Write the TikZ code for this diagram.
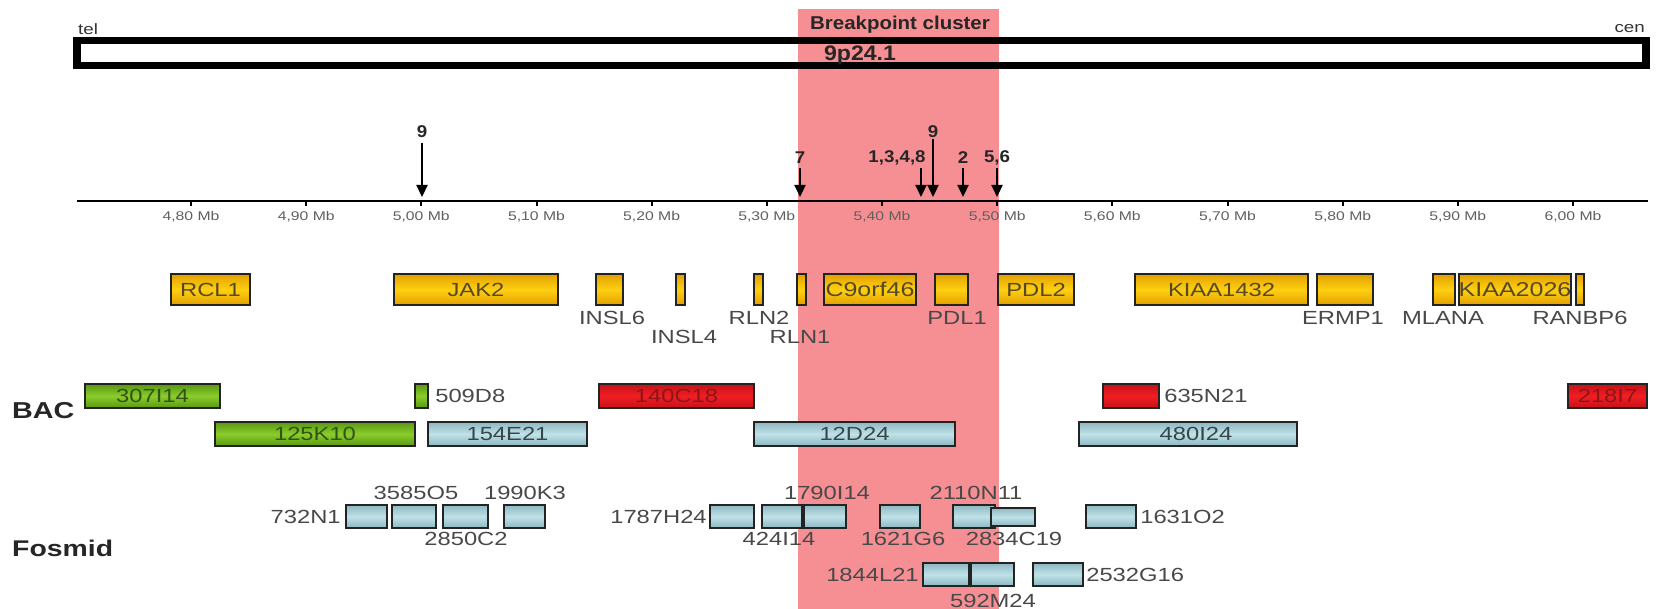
\documentclass[tikz,border=0pt]{standalone}
\usepackage{fontspec}
\setmainfont{Liberation Sans}[FakeStretch=1.25]
\newfontfamily\bd{Liberation Sans}[FakeStretch=1.1]
\newfontfamily\bdw{Liberation Sans}[FakeStretch=1.25]
\usetikzlibrary{arrows.meta}
\definecolor{pinkc}{RGB}{246,143,147}
\definecolor{goldM}{RGB}{255,208,18}
\definecolor{goldE}{RGB}{226,160,0}
\definecolor{greenM}{RGB}{138,204,44}
\definecolor{greenE}{RGB}{88,152,18}
\definecolor{redM}{RGB}{240,30,36}
\definecolor{redE}{RGB}{198,18,24}
\definecolor{blueM}{RGB}{192,225,231}
\definecolor{blueE}{RGB}{140,184,194}
\definecolor{boxline}{RGB}{35,35,35}
\definecolor{labgray}{RGB}{72,72,72}
\definecolor{tickgray}{RGB}{95,95,95}
\definecolor{goldT}{RGB}{85,72,40}
\definecolor{greenT}{RGB}{50,82,22}
\definecolor{redT}{RGB}{140,22,22}
\definecolor{blueT}{RGB}{55,70,76}
\newcommand\mybox[6]{\node[#1, minimum width={#4-#3-2}, minimum height={#6-#5-2}] (#2) at ({(#3+#4)/2},{(#5+#6)/2}) {};}
\tikzset{
  bx/.style={draw=boxline, line width=2.2pt, inner sep=0pt, rectangle},
  goldbox/.style={bx, top color=goldE, bottom color=goldE, middle color=goldM},
  greenbox/.style={bx, top color=greenE, bottom color=greenE, middle color=greenM},
  redbox/.style={bx, top color=redE, bottom color=redE, middle color=redM},
  bluebox/.style={bx, top color=blueE, bottom color=blueE, middle color=blueM},
  lbl/.style={font=\fontsize{19}{19}\selectfont, text=labgray, inner sep=0pt},
  goldtxt/.style={lbl, text=goldT},
  greentxt/.style={lbl, text=greenT},
  redtxt/.style={lbl, text=redT},
  bluetxt/.style={lbl, text=blueT},
  ticklbl/.style={font=\fontsize{12.6}{13}\selectfont, text=tickgray, inner sep=0pt},
  arrlbl/.style={font=\bd\bfseries\fontsize{17}{17}\selectfont, text=black!85, inner sep=0pt},
  arr/.style={line width=2.2pt, -{Triangle[width=11pt,length=12pt]}},
  rowlbl/.style={font=\bdw\bfseries\fontsize{23}{23}\selectfont, text=black!85, inner sep=0pt, anchor=west},
}
\begin{document}
\begin{tikzpicture}[x=1pt,y=-1pt]
\useasboundingbox (0,0) rectangle (1656,609);
% breakpoint cluster
\fill[pinkc] (798,9) rectangle (999,609);
\node[font=\bd\bfseries\fontsize{18.6}{19}\selectfont, text=black!85, inner sep=0pt] (bpc) at (900,25) {Breakpoint cluster};
% chromosome
\node[draw=black, line width=7.5pt, minimum width=1569pt, minimum height=25pt, inner sep=0pt] (chrom) at (861.5,53) {};
\node[font=\bd\bfseries\fontsize{21}{21}\selectfont, text=black!85, inner sep=0pt] (band) at (860,55) {9p24.1};
\node[font=\fontsize{15}{15}\selectfont, text=black!80, inner sep=0pt, anchor=west] (tel) at (78,29) {tel};
\node[font=\fontsize{15}{15}\selectfont, text=black!80, inner sep=0pt, anchor=east] (cen) at (1645,29) {cen};
% axis
\coordinate (axL) at (77,201);
\coordinate (axR) at (1648,201);
\draw[line width=2.4pt] (axL) -- (axR);
\foreach \xx/\a/\b in {191/4/80,306.3/4/90,421.3/5/00,536.5/5/10,651.6/5/20,766.8/5/30,882/5/40,997.2/5/50,1112.3/5/60,1227.5/5/70,1342.7/5/80,1457.8/5/90,1573/6/00}{
  \draw[line width=2pt] (\xx,201) -- (\xx,206);
  \node[ticklbl] at (\xx,217) {\a,\b\ Mb};
}
% breakpoint arrows
\node[arrlbl] (l9a) at (422,132) {9};
\coordinate (s9a) at (422,143); \coordinate (t9a) at (422,197);
\draw[arr] (s9a) -- (t9a);
\node[arrlbl] (l7) at (800,158) {7};
\coordinate (s7) at (800,168); \coordinate (t7) at (800,197);
\draw[arr] (s7) -- (t7);
\node[arrlbl] (l1348) at (897,158) {1,3,4,8};
\coordinate (s1348) at (921,168); \coordinate (t1348) at (921,197);
\draw[arr] (s1348) -- (t1348);
\node[arrlbl] (l9b) at (933,132) {9};
\coordinate (s9b) at (933,139); \coordinate (t9b) at (933,197);
\draw[arr] (s9b) -- (t9b);
\node[arrlbl] (l2) at (963,158) {2};
\coordinate (s2) at (963,168); \coordinate (t2) at (963,197);
\draw[arr] (s2) -- (t2);
\node[arrlbl] (l56) at (997,158) {5,6};
\coordinate (s56) at (997,168); \coordinate (t56) at (997,197);
\draw[arr] (s56) -- (t56);
% genes
\mybox{goldbox}{rcl1}{170}{251}{273}{306}
\mybox{goldbox}{jak2}{393}{559}{273}{306}
\mybox{goldbox}{insl6}{595}{624}{273}{306}
\mybox{goldbox}{insl4}{675}{686}{273}{306}
\mybox{goldbox}{rln2}{753}{764}{273}{306}
\mybox{goldbox}{rln1}{796}{807}{273}{306}
\mybox{goldbox}{c9orf}{823}{917}{273}{306}
\mybox{goldbox}{pdl1}{934}{969}{273}{306}
\mybox{goldbox}{pdl2}{997}{1075}{273}{306}
\mybox{goldbox}{kiaa1432}{1134}{1309}{273}{306}
\mybox{goldbox}{ermp1}{1316}{1374}{273}{306}
\mybox{goldbox}{mlana}{1432}{1456}{273}{306}
\mybox{goldbox}{kiaa2026}{1458}{1572}{273}{306}
\mybox{goldbox}{ranbp6}{1575}{1585}{273}{306}
\node[goldtxt] (trcl1) at (rcl1) {RCL1};
\node[goldtxt] (tjak2) at (jak2) {JAK2};
\node[goldtxt, font=\fontsize{20}{20}\selectfont] (tc9orf) at (c9orf) {C9orf46};
\node[goldtxt] (tpdl2) at (pdl2) {PDL2};
\node[goldtxt] (tkiaa1432) at (kiaa1432) {KIAA1432};
\node[goldtxt, font=\fontsize{20}{20}\selectfont] (tkiaa2026) at (kiaa2026) {KIAA2026};
\node[lbl] (tinsl6) at (612,318) {INSL6};
\node[lbl] (tinsl4) at (684,337) {INSL4};
\node[lbl] (trln2) at (759,318) {RLN2};
\node[lbl] (trln1) at (800,337) {RLN1};
\node[lbl] (tpdl1) at (957,318) {PDL1};
\node[lbl] (termp1) at (1343,318) {ERMP1};
\node[lbl] (tmlana) at (1443,318) {MLANA};
\node[lbl] (tranbp6) at (1580,318) {RANBP6};
% BAC
\node[rowlbl] (bac) at (12,411) {BAC};
\mybox{greenbox}{b307}{84}{221}{383}{409}
\mybox{greenbox}{b509}{414}{429}{383}{409}
\mybox{redbox}{b140}{598}{755}{383}{409}
\mybox{redbox}{b635}{1102}{1160}{383}{409}
\mybox{redbox}{b218}{1567}{1648}{383}{409}
\mybox{greenbox}{b125}{214}{416}{421}{447}
\mybox{bluebox}{b154}{427}{588}{421}{447}
\mybox{bluebox}{b12}{753}{956}{421}{447}
\mybox{bluebox}{b480}{1078}{1298}{421}{447}
\node[greentxt] (tb307) at (b307) {307I14};
\node[lbl, anchor=west] (tb509) at ([xshift=6pt]b509.east) {509D8};
\node[redtxt] (tb140) at (b140) {140C18};
\node[lbl, anchor=west] (tb635) at ([xshift=4pt]b635.east) {635N21};
\node[redtxt] (tb218) at (b218) {218I7};
\node[greentxt] (tb125) at (b125) {125K10};
\node[bluetxt] (tb154) at (b154) {154E21};
\node[bluetxt] (tb12) at (b12) {12D24};
\node[bluetxt] (tb480) at ([xshift=8pt]b480.center) {480I24};
% Fosmid
\node[rowlbl, font=\bdw\bfseries\fontsize{22.7}{23}\selectfont] (fos) at (12,548) {Fosmid};
\mybox{bluebox}{f732}{345}{388}{504}{529}
\mybox{bluebox}{f3585}{391}{437}{504}{529}
\mybox{bluebox}{f2850}{442}{489}{504}{529}
\mybox{bluebox}{f1990}{503}{546}{504}{529}
\mybox{bluebox}{f1787}{709}{755}{504}{529}
\mybox{bluebox}{f424}{761}{803}{504}{529}
\mybox{bluebox}{f1790}{803}{847}{504}{529}
\mybox{bluebox}{f1621}{879}{921}{504}{529}
\mybox{bluebox}{f2110}{952}{996}{504}{529}
\mybox{bluebox}{f2834}{990}{1036}{507}{527}
\mybox{bluebox}{f1631}{1085}{1137}{504}{529}
\mybox{bluebox}{f1844}{922}{970}{562}{587}
\mybox{bluebox}{f592}{970}{1015}{562}{587}
\mybox{bluebox}{f2532}{1032}{1084}{562}{587}
\node[lbl, anchor=east] (tf732) at ([xshift=-4pt]f732.west) {732N1};
\node[lbl] (tf3585) at (416,493) {3585O5};
\node[lbl] (tf2850) at (466,539) {2850C2};
\node[lbl] (tf1990) at (525,493) {1990K3};
\node[lbl, anchor=east] (tf1787) at ([xshift=-2pt]f1787.west) {1787H24};
\node[lbl] (tf1790) at (827,493) {1790I14};
\node[lbl] (tf424) at (779,539) {424I14};
\node[lbl] (tf1621) at (903,539) {1621G6};
\node[lbl] (tf2110) at (976,493) {2110N11};
\node[lbl] (tf2834) at (1014,539) {2834C19};
\node[lbl, anchor=west] (tf1631) at ([xshift=3pt]f1631.east) {1631O2};
\node[lbl, anchor=east] (tf1844) at ([xshift=-3pt]f1844.west) {1844L21};
\node[lbl] (tf592) at (993,601) {592M24};
\node[lbl, anchor=west] (tf2532) at ([xshift=2pt]f2532.east) {2532G16};
\end{tikzpicture}
\end{document}
